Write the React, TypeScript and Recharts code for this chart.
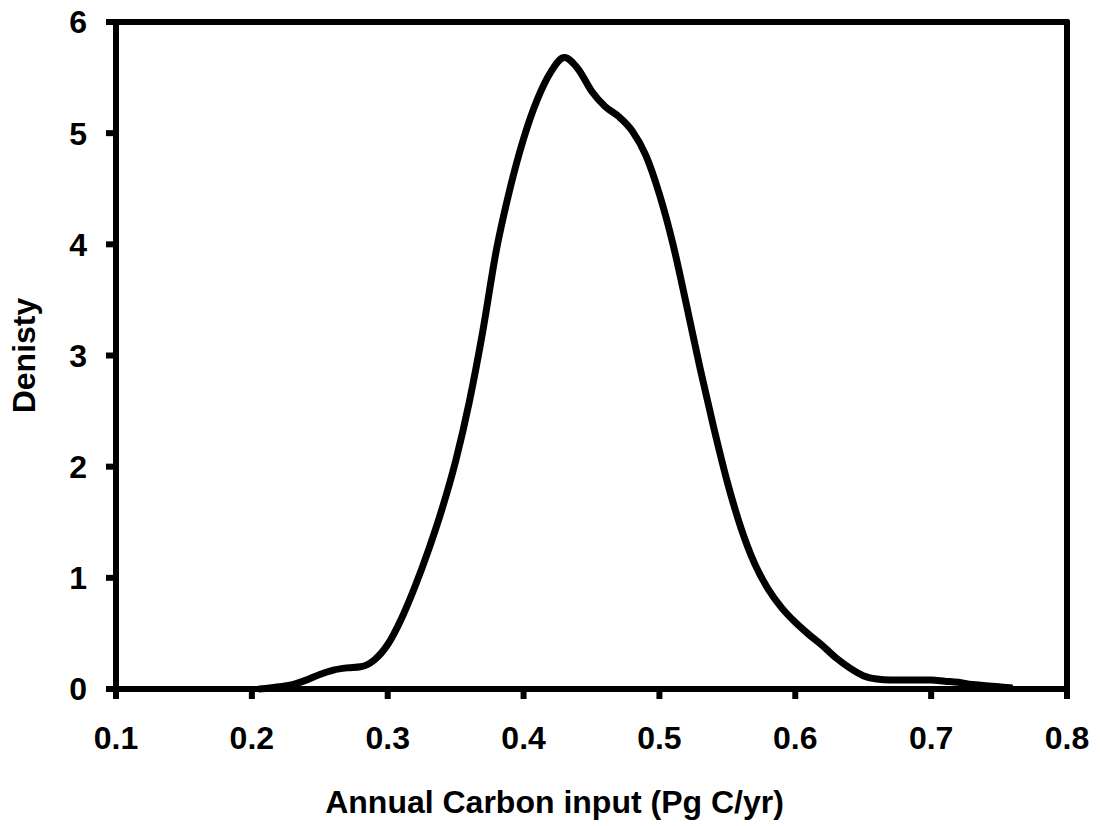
import { LineChart, Line, XAxis, YAxis, ReferenceLine } from 'recharts'

// density curve
const carbonInput = [
	0.205, 0.21, 0.22, 0.23, 0.24, 0.25, 0.26, 0.27, 0.28, 0.29, 0.3, 0.31, 0.32, 0.33, 0.34, 0.35, 0.36,
	0.37, 0.38, 0.39, 0.4, 0.41, 0.42, 0.43, 0.44, 0.45, 0.46, 0.47, 0.48, 0.49, 0.5, 0.51, 0.52, 0.53,
	0.54, 0.55, 0.56, 0.57, 0.58, 0.59, 0.6, 0.61, 0.62, 0.63, 0.64, 0.65, 0.66, 0.67, 0.68, 0.69, 0.7,
	0.71, 0.72, 0.73, 0.74, 0.75, 0.76
]
const density = [
	0, 0.005, 0.02, 0.04, 0.08, 0.13, 0.17, 0.19, 0.2, 0.26, 0.4, 0.63, 0.92, 1.25, 1.62, 2.05, 2.58, 3.22,
	3.95, 4.5, 4.95, 5.3, 5.55, 5.68, 5.58, 5.38, 5.24, 5.15, 5.02, 4.8, 4.45, 4.0, 3.45, 2.88, 2.35,
	1.86, 1.45, 1.13, 0.9, 0.73, 0.6, 0.49, 0.39, 0.28, 0.19, 0.12, 0.09, 0.08, 0.08, 0.08, 0.08, 0.07,
	0.06, 0.04, 0.03, 0.02, 0.01, 0.005
]
const xTicks = [0.1, 0.2, 0.3, 0.4, 0.5, 0.6, 0.7, 0.8]
const yTicks = [0, 1, 2, 3, 4, 5, 6]

const data = carbonInput.map((x, i) => ({ x, d: density[i] }))

const font = { fill: '#000', fontSize: 32, fontWeight: 'bold', fontFamily: 'Liberation Sans, Arial, sans-serif' }

export default function App() {
	return (
		<div style={{ position: 'absolute', left: 0, top: 0, width: 1100, height: 826, background: '#fff' }}>
			<LineChart width={1100} height={826} data={data} margin={{ top: 22, right: 33, bottom: 0, left: 0 }}>
				<XAxis
					type="number"
					dataKey="x"
					domain={[0.1, 0.8]}
					ticks={xTicks}
					tickFormatter={(v: number) => v.toFixed(1)}
					height={137}
					tickSize={10}
					tickMargin={27}
					axisLine={{ stroke: '#000', strokeWidth: 6 }}
					tickLine={{ stroke: '#000', strokeWidth: 6 }}
					tick={font}
					label={{ value: 'Annual Carbon input (Pg C/yr)', position: 'center', dx: -37, dy: 44, ...font }}
				/>
				<YAxis
					type="number"
					domain={[0, 6]}
					ticks={yTicks}
					width={116}
					tickSize={10}
					tickMargin={19}
					axisLine={{ stroke: '#000', strokeWidth: 6 }}
					tickLine={{ stroke: '#000', strokeWidth: 6 }}
					tick={font}
					label={{ value: 'Denisty', angle: -90, position: 'center', dx: -34, ...font }}
				/>
				<ReferenceLine y={6} stroke="#000" strokeWidth={6} strokeLinecap="round" />
				<ReferenceLine x={0.8} stroke="#000" strokeWidth={6} strokeLinecap="round" />
				<Line
					type="monotone"
					dataKey="d"
					stroke="#000"
					strokeWidth={7}
					dot={false}
					strokeLinejoin="round"
					isAnimationActive={false}
				/>
			</LineChart>
		</div>
	)
}
